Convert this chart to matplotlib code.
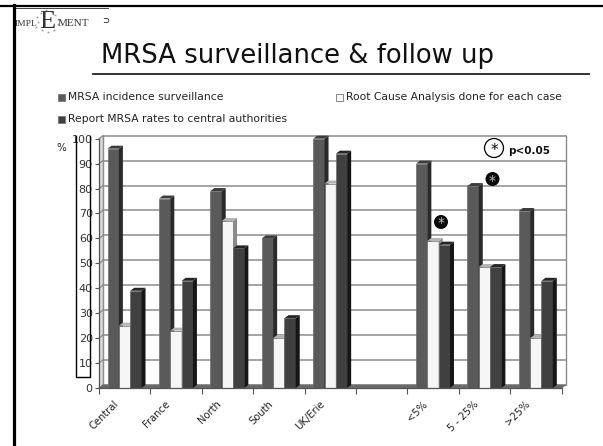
import matplotlib
matplotlib.use("Agg")
import matplotlib.pyplot as plt
from matplotlib.patches import Polygon, Circle

W, H = 603, 446

categories = ["Central", "France", "North", "South", "UK/Erie", "", "<5%", "5 - 25%", ">25%"]
incidence = [96, 76, 79, 60, 100, None, 90, 81, 71]
root_cause = [25, 23, 67, 20, 82, None, 59, 48.5, 20]
report = [39, 43, 56, 28, 94, None, 57.5, 48.5, 43]
y_ticks = list(range(0, 101, 10))
series_names = ["MRSA incidence surveillance", "Root Cause Analysis done for each case",
                "Report MRSA rates to central authorities"]

fill_colors = ["#5a5a5a", "#f6f6f6", "#404040"]
side_colors = ["#2a2a2a", "#8a8a8a", "#161616"]
top_colors = ["#3c3c3c", "#b4b4b4", "#262626"]
FONT = "DejaVu Sans"

fig = plt.figure(figsize=(W / 100, H / 100), dpi=100)

# overlay in pixel coordinates for the slide furniture
bg = fig.add_axes([0, 0, 1, 1])
bg.set_xlim(0, W)
bg.set_ylim(H, 0)
bg.axis("off")

ax = fig.add_axes([99 / W, (H - 388) / H, (561.7 - 99) / W, (388 - 138.7) / H])
ax.set_xlim(0, len(categories))
ax.set_ylim(0, 100)
ax.patch.set_alpha(0)
for s in ["top", "right"]:
    ax.spines[s].set_visible(False)
for s in ["left", "bottom"]:
    ax.spines[s].set_color("#555555")
    ax.spines[s].set_linewidth(0.9)

# depth of the 3D look, in data units
dx = 4 / 51.4
dy = 3 / 2.49

grid_c = "#8c8c8c"
# left wall, slightly grey, then the grid on top of it
ax.add_patch(Polygon([(0, 0), (dx, dy), (dx, 100 + dy), (0, 100)], facecolor="#d8d8d8",
                     edgecolor="none", zorder=0.5, clip_on=False))
for t in y_ticks:
    ax.plot([dx, len(categories) + dx], [t + dy, t + dy], color=grid_c, lw=1.1, zorder=1, clip_on=False)
    ax.plot([0, dx], [t, t + dy], color=grid_c, lw=0.9, zorder=1, clip_on=False)
ax.plot([dx, dx], [dy, 100 + dy], color=grid_c, lw=1.0, zorder=1, clip_on=False)
ax.plot([len(categories) + dx] * 2, [dy, 100 + dy], color=grid_c, lw=1.0, zorder=1, clip_on=False)
ax.add_patch(Polygon([(0, 0), (len(categories), 0), (len(categories) + dx, dy), (dx, dy)],
                     facecolor="#6a6a6a", edgecolor="#6a6a6a", lw=0.5, zorder=1.5, clip_on=False))

bar_w = 0.22
start = 0.167
series = [incidence, root_cause, report]
for j, vals in enumerate(series):
    for i, v in enumerate(vals):
        if v is None:
            continue
        x0 = i + start + j * bar_w
        x1 = x0 + bar_w
        z = 2 + j * 0.1
        ax.bar(x0, v, width=bar_w, align="edge", color=fill_colors[j], edgecolor="#6e6e6e",
               linewidth=0.5, zorder=z)
        ax.add_patch(Polygon([(x1, 0), (x1 + dx, dy), (x1 + dx, v + dy), (x1, v)],
                             facecolor=side_colors[j], edgecolor="none", zorder=z, clip_on=False))
        ax.add_patch(Polygon([(x0, v), (x0 + dx, v + dy), (x1 + dx, v + dy), (x1, v)],
                             facecolor=top_colors[j], edgecolor="none", zorder=z, clip_on=False))

ax.set_yticks(y_ticks)
ax.set_xticks(range(len(categories) + 1))
ax.set_xticklabels([])
ax.tick_params(axis="y", length=3, width=0.8, color="#555555", labelsize=8, pad=1.5, labelcolor="#333333")
ax.tick_params(axis="x", length=4, width=0.8, color="#555555")
for i, c in enumerate(categories):
    if c:
        ax.annotate(c, xy=(i + 0.5, 0), xytext=(-8, -8), textcoords="offset points", rotation=45,
                    ha="right", va="top", rotation_mode="anchor", fontsize=7.2, color="#222222",
                    family=FONT)

# slide frame
bg.plot([0, W], [5.7, 5.7], color="black", lw=1.6)
bg.plot([14, 108], [7.9, 7.9], color="#444444", lw=0.7)
bg.plot([13.5, 13.5], [5, H], color="black", lw=2.3)

# logo
bg.text(15, 23.5, "IMPL", fontsize=6.8, family="Liberation Serif", va="center", ha="left", color="#333333")
bg.text(47, 22, "E", fontsize=19, family="Liberation Serif", va="center", ha="center", color="#333333")
bg.text(58, 23.5, "MENT", fontsize=8, family="Liberation Serif", va="center", ha="left", color="#333333")
logo_star_x = [37, 38, 41, 46, 52, 55, 58, 58, 36, 42, 48, 54]
logo_star_y = [17, 22, 13, 10, 12, 15, 19, 24, 27, 30, 32, 30]
bg.scatter(logo_star_x, logo_star_y, s=5, marker="*", color="#999999", linewidths=0)
bg.text(106, 21, "\u2283", fontsize=6, va="center", ha="center", color="black", family=FONT)

# title
bg.text(101, 63, "MRSA surveillance & follow up", fontsize=18.6, family=FONT, va="baseline", ha="left",
        color="#111111")
bg.plot([93, 589], [74, 74], color="#222222", lw=1.3)

# legend
legend_pos = [(58, 97.5), (336, 97.5), (58, 119.5)]
for (lx, ly), name, c in zip(legend_pos, series_names, fill_colors):
    bg.add_patch(plt.Rectangle((lx, ly - 3.5), 7, 7, facecolor=c, edgecolor="#777777", lw=0.6))
    bg.text(lx + 10.5, ly, name, fontsize=7.75, family=FONT, va="center", ha="left", color="#222222")

# box behind the axis labels and the percent sign
bg.plot([76, 76, 89.5, 89.5], [136, 376.5, 376.5, 136], color="black", lw=1)
bg.text(61, 148, "%", fontsize=7.5, family=FONT, va="center", ha="center", color="#222222")

# significance marks
bg.add_patch(Circle((494, 148), 9.5, facecolor="white", edgecolor="black", lw=0.9, zorder=6))
bg.text(494, 150, "*", fontsize=11, family=FONT, va="center", ha="center", zorder=7)
bg.text(508, 151, "p<0.05", fontsize=7.5, family=FONT, va="center", ha="left", fontweight="bold",
        color="#111111", zorder=7)
for mx, my in [(441, 222), (492.5, 179)]:
    bg.add_patch(Circle((mx, my), 7, facecolor="#0a0a0a", edgecolor="none", zorder=6))
    bg.text(mx, my + 1.5, "*", fontsize=10, family=FONT, va="center", ha="center", color="#bbbbbb", zorder=7)
bg.set_zorder(3)

fig.savefig("out.png", dpi=100)
